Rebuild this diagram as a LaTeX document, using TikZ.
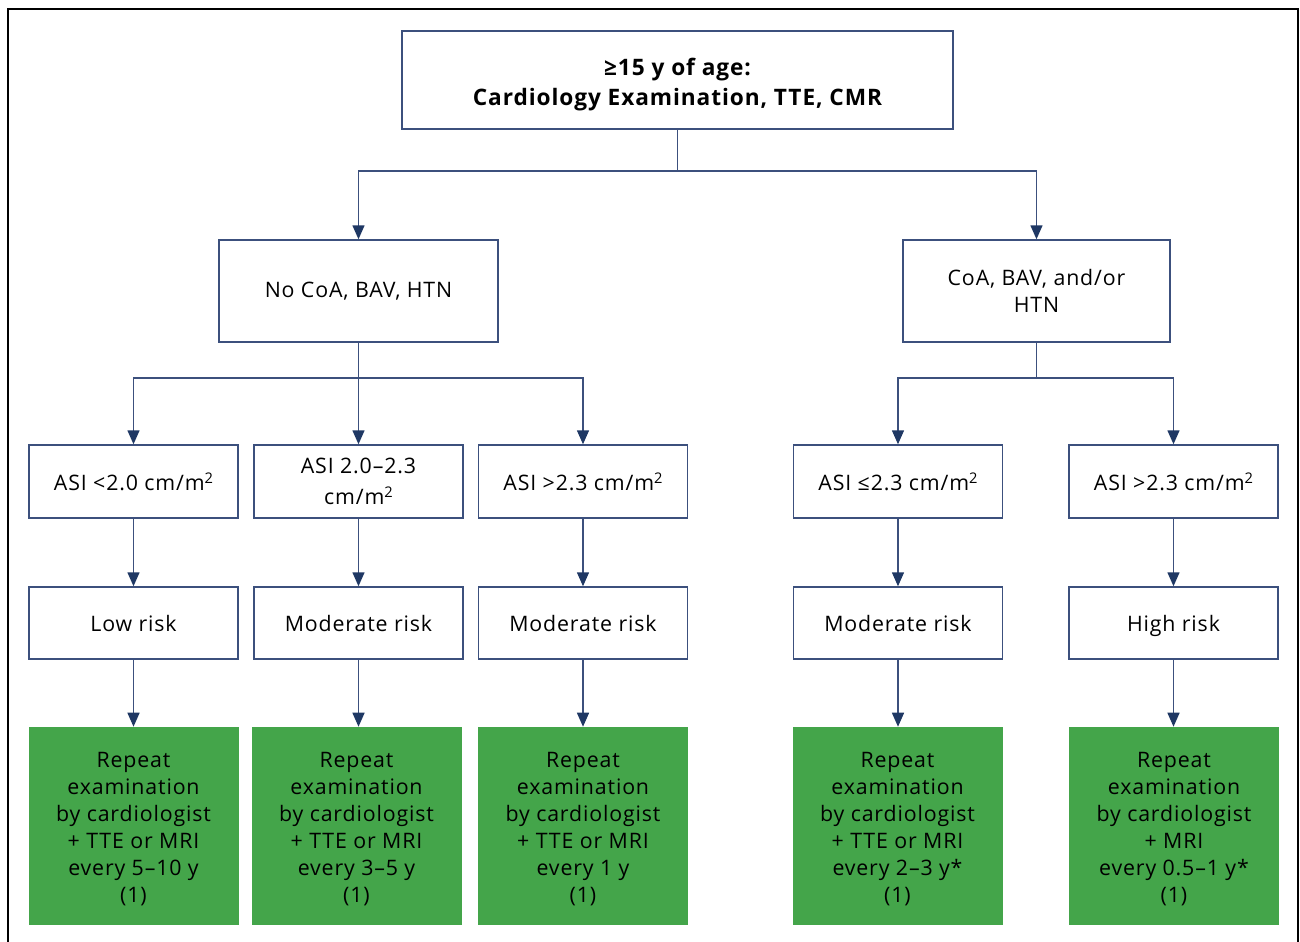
\documentclass[tikz,border=0pt]{standalone}
\usepackage{fontspec}
\setmainfont{Open Sans}[LetterSpace=4]
\usetikzlibrary{arrows.meta}
\definecolor{navy}{RGB}{31,56,100}
\definecolor{boxline}{RGB}{60,80,125}
\definecolor{grn}{RGB}{68,165,74}
\newcommand{\sqm}{m\raisebox{0.62ex}{\fontsize{11}{11}\selectfont 2}}
\newcommand{\riskstrut}{\rule[-4pt]{0pt}{20.5pt}}
\begin{document}
\begin{tikzpicture}[x=0.75pt,y=-0.75pt,
  box/.style={draw=boxline, line width=1.1pt, fill=white, align=center, inner sep=0pt,
    font=\fontsize{16}{20}\selectfont},
  ttl/.style={box, minimum width=413.25pt, minimum height=73.5pt,
    font=\fontsize{17}{22.5}\selectfont\bfseries},
  midbox/.style={box, minimum height=76.5pt},
  asibox/.style={box, minimum width=156.75pt, minimum height=54.75pt},
  riskbox/.style={box, minimum width=156.75pt, minimum height=54pt},
  greenbox/.style={fill=grn, draw=none, align=center, inner sep=0pt,
    minimum width=157.5pt, minimum height=148.5pt, font=\fontsize{16}{20.2}\selectfont},
  arr/.style={draw=boxline, line width=1.1pt, -{Triangle[width=9pt,length=10.5pt,color=navy]}},
  ln/.style={draw=boxline, line width=1.1pt}
]
\useasboundingbox (0,0) rectangle (1300,942);
\draw[line width=2pt] (8,942) -- (8,9) -- (1298,9) -- (1298,942);

\node[ttl] (top) at (677.5,80) {\rule{0pt}{20pt}≥15 y of age:\\Cardiology Examination, TTE, CMR};
\node[midbox, minimum width=209.25pt] (left) at (358.5,291) {No CoA, BAV, HTN};
\node[midbox, minimum width=200.25pt] (right) at (1036.5,291) {CoA, BAV, and/or\\HTN};

\node[asibox] (a1) at (133.5,481.5) {ASI <2.0 cm/\sqm};
\node[asibox] (a2) at (358.5,481.5) {ASI 2.0–2.3\\[3pt]cm/\sqm};
\node[asibox] (a3) at (583,481.5) {ASI >2.3 cm/\sqm};
\node[asibox] (a4) at (898,481.5) {ASI ≤2.3 cm/\sqm};
\node[asibox] (a5) at (1173.5,481.5) {ASI >2.3 cm/\sqm};

\node[riskbox] (b1) at (133.5,623) {\riskstrut Low risk};
\node[riskbox] (b2) at (358.5,623) {\riskstrut Moderate risk};
\node[riskbox] (b3) at (583,623) {\riskstrut Moderate risk};
\node[riskbox] (b4) at (898,623) {\riskstrut Moderate risk};
\node[riskbox] (b5) at (1173.5,623) {\riskstrut High risk};

\node[greenbox] (g1) at (133.5,826) {\rule{0pt}{16.5pt}Repeat\\examination\\by cardiologist\\+ TTE or MRI\\every 5–10 y\\(1)};
\node[greenbox] (g2) at (356.5,826) {\rule{0pt}{16.5pt}Repeat\\examination\\by cardiologist\\+ TTE or MRI\\every 3–5 y\\(1)};
\node[greenbox] (g3) at (583,826) {\rule{0pt}{16.5pt}Repeat\\examination\\by cardiologist\\+ TTE or MRI\\every 1 y\\(1)};
\node[greenbox] (g4) at (897.5,826) {\rule{0pt}{16.5pt}Repeat\\examination\\by cardiologist\\+ TTE or MRI\\every 2–3 y*\\(1)};
\node[greenbox] (g5) at (1174,826) {\rule{0pt}{16.5pt}Repeat\\examination\\by cardiologist\\+ MRI\\every 0.5–1 y*\\(1)};

\coordinate (j0) at (677.5,171);
\coordinate (j1) at (358.5,378);
\coordinate (j2) at (1036.5,378);

\draw[ln] (top.south) -- (j0);
\draw[arr] (j0) -| (left.north);
\draw[arr] (j0) -| (right.north);

\draw[ln] (left.south) -- (j1);
\draw[arr] (j1) -| (a1.north);
\draw[arr] (j1) -- (a2.north);
\draw[arr] (j1) -| (a3.north);

\draw[ln] (right.south) -- (j2);
\draw[arr] (j2) -| (a4.north);
\draw[arr] (j2) -| (a5.north);

\foreach \i in {1,...,5} {
  \draw[arr] (a\i.south) -- (b\i.north);
  \draw[arr] (b\i.south) -- (b\i.south |- g\i.north);
}
\end{tikzpicture}
\end{document}
